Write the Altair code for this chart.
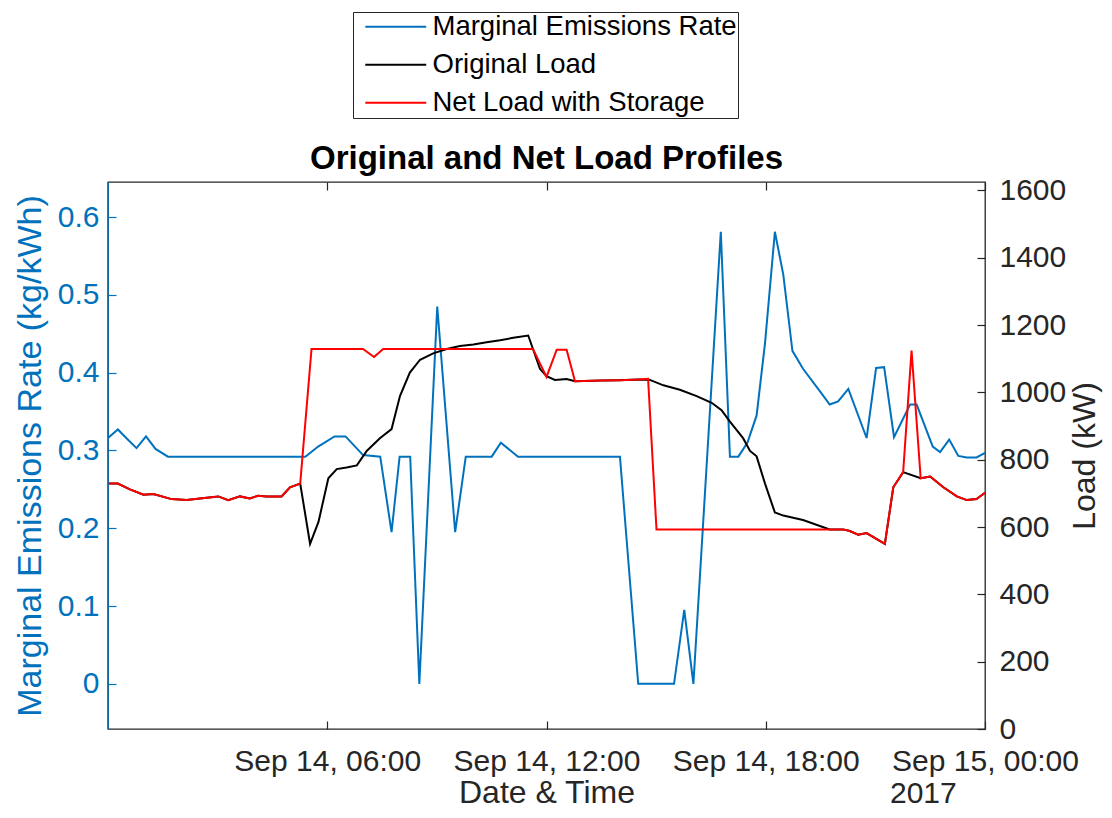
import altair as alt
import pandas as pd

BLUE = "#0072BD"
DARK = "#262626"
FONT = "Liberation Sans"

# ---- data (hours after 2017-09-14 00:00) ----
mer_hours = [0, 0.27, 0.52, 0.78, 1.04, 1.3, 1.64, 5.4, 5.75, 6.2, 6.5, 6.98, 7.45, 7.76,
             7.98, 8.27, 8.52, 9.01, 9.5, 9.79, 10.5, 10.75, 11.22, 14.01, 14.51, 15.49,
             15.77, 16.02, 16.77, 17.02, 17.25, 17.5, 17.75, 17.98, 18.25, 18.48, 18.73,
             19.02, 19.5, 19.75, 19.98, 20.26, 20.76, 21.02, 21.24, 21.51, 21.95, 22.13,
             22.57, 22.77, 23.02, 23.27, 23.5, 23.77, 24.0]
mer_values = [0.316, 0.327, 0.315, 0.303, 0.318, 0.302, 0.292, 0.292, 0.305, 0.318, 0.318,
              0.294, 0.292, 0.195, 0.292, 0.292, 0.0, 0.485, 0.195, 0.292, 0.292, 0.31,
              0.292, 0.292, 0.0, 0.0, 0.095, 0.0, 0.581, 0.292, 0.292, 0.31, 0.345, 0.438,
              0.581, 0.526, 0.428, 0.405, 0.375, 0.359, 0.363, 0.379, 0.316, 0.406, 0.407,
              0.317, 0.359, 0.359, 0.305, 0.298, 0.314, 0.293, 0.291, 0.291, 0.297]

orig_hours = [0, 0.27, 0.6, 0.97, 1.24, 1.74, 2.15, 2.7, 3.02, 3.29, 3.61, 3.88, 4.11, 4.34,
              4.75, 4.98, 5.26, 5.53, 5.76, 6.03, 6.26, 6.53, 6.81, 7.08, 7.44, 7.76, 7.99,
              8.26, 8.54, 8.9, 9.27, 9.63, 10.0, 10.36, 10.73, 11.09, 11.5, 11.63, 11.82,
              12.0, 12.23, 12.55, 12.78, 13.5, 14.0, 14.5, 14.83, 15.2, 15.65, 16.11, 16.52,
              16.79, 17.02, 17.38, 17.57, 17.75, 17.98, 18.25, 18.48, 19.02, 19.75, 20.12,
              20.3, 20.53, 20.76, 21.26, 21.49, 21.76, 22.24, 22.5, 22.86, 23.23, 23.5,
              23.77, 24.0]
orig_values = [729, 729, 712, 696, 698, 683, 680, 687, 691, 680, 691, 685, 693, 691, 691,
               718, 729, 550, 615, 745, 772, 777, 783, 826, 864, 891, 989, 1059, 1097, 1116,
               1129, 1138, 1142, 1149, 1155, 1162, 1169, 1129, 1070, 1048, 1037, 1040, 1033,
               1035, 1036, 1038, 1037, 1021, 1008, 989, 969, 947, 913, 864, 826, 810, 729,
               643, 634, 621, 593, 593, 588, 577, 582, 550, 718, 763, 745, 750, 718, 691,
               680, 683, 702]

net_hours = [0, 0.27, 0.6, 0.97, 1.24, 1.74, 2.15, 2.7, 3.02, 3.29, 3.61, 3.88, 4.11, 4.34,
             4.75, 4.98, 5.26, 5.57, 6.98, 7.28, 7.53, 11.63, 12.0, 12.28, 12.55, 12.78,
             13.5, 14.0, 14.5, 14.78, 15.01, 20.12, 20.3, 20.53, 20.76, 21.26, 21.49, 21.76,
             21.99, 22.24, 22.5, 22.86, 23.23, 23.5, 23.77, 24.0]
net_values = [729, 729, 712, 696, 698, 683, 680, 687, 691, 680, 691, 685, 693, 691, 691,
              718, 729, 1129, 1129, 1105, 1129, 1129, 1046, 1127, 1127, 1033, 1035, 1036,
              1038, 1040, 593, 593, 588, 577, 582, 550, 718, 763, 1124, 745, 750, 718, 691,
              680, 683, 702]

series_names = ["Marginal Emissions Rate", "Original Load", "Net Load with Storage"]
series_colors = [BLUE, "#000000", "#FF0000"]

left_ticks = [0, 0.1, 0.2, 0.3, 0.4, 0.5, 0.6]
right_ticks = [0, 200, 400, 600, 800, 1000, 1200, 1400, 1600]
x_tick_hours = [6, 12, 18, 24]
year_label = "2017"
chart_title = "Original and Net Load Profiles"

W, H = 877, 547


def to_time(hours):
    base = pd.Timestamp("2017-09-14 00:00:00")
    return [(base + pd.to_timedelta(h, unit="h")).strftime("%Y-%m-%dT%H:%M:%S") for h in hours]


def dt(h):
    d = 14 + h // 24
    return alt.DateTime(year=2017, month=9, date=int(d), hours=int(h % 24))


mer_df = pd.DataFrame({"time": to_time(mer_hours), "value": mer_values,
                       "series": series_names[0], "idx": range(len(mer_hours))})
orig_df = pd.DataFrame({"time": to_time(orig_hours), "value": orig_values,
                        "series": series_names[1], "idx": range(len(orig_hours))})
net_df = pd.DataFrame({"time": to_time(net_hours), "value": net_values,
                       "series": series_names[2], "idx": range(len(net_hours))})
load_df = pd.concat([orig_df, net_df], ignore_index=True)

x_scale = alt.Scale(domain=[dt(0), dt(24)])
x_values = [dt(h) for h in x_tick_hours]

color = alt.Color(
    "series:N",
    scale=alt.Scale(domain=series_names, range=series_colors),
    legend=alt.Legend(
        orient="none", legendX=245, legendY=-170, direction="vertical", title=None,
        labelFont=FONT, labelFontSize=27.5, labelColor="black", labelLimit=600,
        symbolType="M-4,0H4", symbolSize=232, symbolStrokeWidth=2,
        symbolOffset=28, labelOffset=23, rowPadding=9, padding=1,
        strokeColor=DARK, fillColor="white",
    ),
)

bottom_axis = alt.Axis(
    orient="bottom", offset=-8, tickSize=8, tickColor=DARK, tickWidth=1.2, domain=False,
    grid=False, values=x_values, format="%b %d, %H:%M", labelFont=FONT, labelFontSize=30,
    labelColor=DARK, labelPadding=17, labelFlush=False, labelOverlap=False, labelLimit=600,
    title="Date & Time", titleFont=FONT, titleFontSize=32, titleFontWeight="normal",
    titleColor=DARK, titlePadding=1,
)
top_axis = alt.Axis(
    orient="top", offset=-8, tickSize=8, tickColor=DARK, tickWidth=1.2, domain=False,
    grid=False, values=x_values, labels=False, title=None,
)

mer_line = alt.Chart(mer_df).mark_line(strokeWidth=2).encode(
    x=alt.X("time:T", scale=x_scale, axis=bottom_axis),
    y=alt.Y("value:Q", scale=alt.Scale(domain=[-0.058, 0.645], nice=False, zero=False),
            axis=alt.Axis(orient="left", offset=-8, tickSize=8, tickColor=BLUE, tickWidth=1.2,
                          domain=False, grid=False, values=left_ticks, format=".1~f",
                          labelFont=FONT, labelFontSize=30, labelColor=BLUE, labelPadding=9,
                          title="Marginal Emissions Rate (kg/kWh)", titleFont=FONT,
                          titleFontSize=34, titleFontWeight="normal", titleColor=BLUE,
                          titlePadding=10, titleLimit=800)),
    color=color,
    order="idx:Q",
)

load_lines = alt.Chart(load_df).mark_line(strokeWidth=2).encode(
    x=alt.X("time:T", scale=x_scale, axis=top_axis),
    y=alt.Y("value:Q", scale=alt.Scale(domain=[0, 1625], nice=False, zero=False),
            axis=alt.Axis(orient="right", offset=-8, tickSize=8, tickColor=DARK, tickWidth=1.2,
                          domain=False, grid=False, values=right_ticks, format="d",
                          labelFont=FONT, labelFontSize=30, labelColor=DARK, labelPadding=14,
                          title="Load (kW)", titleFont=FONT, titleFontSize=32,
                          titleFontWeight="normal", titleColor=DARK, titlePadding=4,
                          titleAngle=270, titleBaseline="top")),
    color=color,
    order="idx:Q",
)

year_text = alt.Chart(pd.DataFrame({"time": to_time([24]), "label": [year_label]})).mark_text(
    align="left", baseline="alphabetic", dx=-95, font=FONT, fontSize=30, color=DARK
).encode(
    x=alt.X("time:T", scale=x_scale, axis=None),
    y=alt.value(621),
    text="label:N",
)

title_text = alt.Chart(pd.DataFrame({"label": [chart_title]})).mark_text(
    align="center", baseline="alphabetic", font=FONT, fontSize=33, fontWeight="bold",
    color="black"
).encode(
    x=alt.value(W / 2), y=alt.value(-13), text="label:N"
)

left_edge = alt.Chart(pd.DataFrame({"edge": [0]})).mark_rule(color=BLUE, strokeWidth=1.5).encode(
    x=alt.value(0), y=alt.value(0), y2=alt.value(H)
)

chart = alt.layer(mer_line, load_lines, year_text, title_text, left_edge).resolve_scale(
    y="independent"
).resolve_axis(
    x="independent", y="independent"
).properties(
    width=W, height=H,
    padding={"left": 100, "top": 174, "right": 119, "bottom": 81},
    autosize=alt.AutoSizeParams(type="none"),
).configure_view(stroke=DARK, strokeWidth=1.3)

chart.save("out.html", embed_options={"renderer": "svg", "actions": False})
